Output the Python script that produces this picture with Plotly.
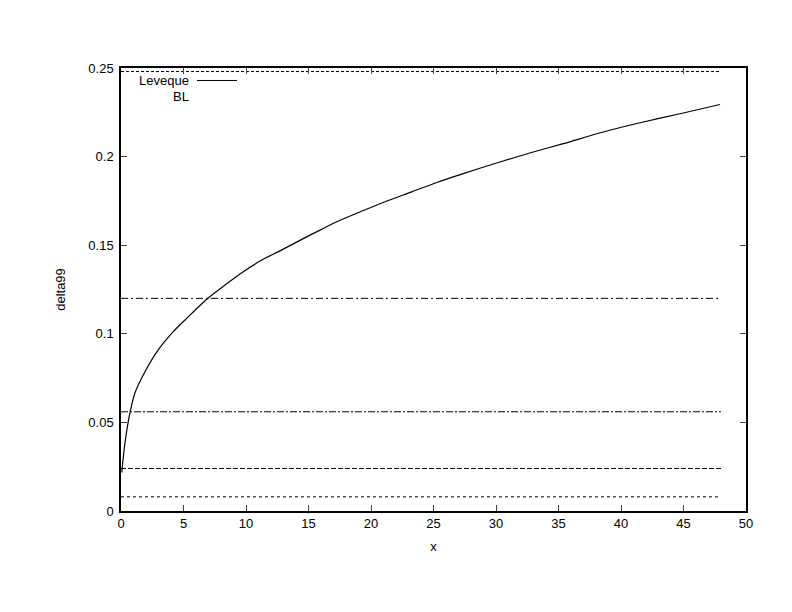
import plotly.graph_objects as go

# Leveque curve values
lev_x = [0.06, 0.32, 0.72, 1.12, 1.92, 2.98, 4.18, 5.12, 6.86, 8.32, 9.78, 11.26,
         12.72, 14.46, 15.92, 17.26, 19.34, 20.98, 23.26, 25.26, 27.38, 30.06,
         32.98, 35.38, 38.58, 41.52, 44.72, 47.92]
lev_y = [0.0217, 0.0386, 0.0555, 0.0667, 0.0786, 0.0909, 0.1012, 0.1078, 0.1195,
         0.1275, 0.1350, 0.1416, 0.1468, 0.1533, 0.1585, 0.1632, 0.1694, 0.1741,
         0.1801, 0.1854, 0.1904, 0.1964, 0.2026, 0.2073, 0.2139, 0.2191, 0.2242,
         0.2294]

# Horizontal reference levels (BL)
bl_levels = [0.248, 0.12, 0.056, 0.024, 0.008]
bl_dash = ["3px,2px", "7px,3px,2px,3px", "7px,2px,2px,2px", "5px,2px", "3px,3px"]
bl_x = [0, 48]

x_ticks = [0, 5, 10, 15, 20, 25, 30, 35, 40, 45, 50]
y_ticks = [0, 0.05, 0.1, 0.15, 0.2, 0.25]
y_tick_text = ["0", "0.05", "0.1", "0.15", "0.2", "0.25"]

fig = go.Figure()

for lvl, d in zip(bl_levels, bl_dash):
    fig.add_trace(go.Scatter(x=bl_x, y=[lvl, lvl], mode="lines",
                             line=dict(color="black", width=1, dash=d),
                             showlegend=False, hoverinfo="skip"))

fig.add_trace(go.Scatter(x=lev_x, y=lev_y, mode="lines",
                         line=dict(color="black", width=1.2, shape="spline", smoothing=0.8),
                         name="Leveque", showlegend=False))

font = dict(family="Liberation Sans, Arial, sans-serif", size=13, color="black")

# page body has an 8px margin, so the figure is sized/offset to compensate
W, H = 784, 604
L, T = 113, 59.5
PW, PH = 625, 444

fig.update_layout(
    width=W, height=H,
    margin=dict(l=L, r=W - L - PW, t=T, b=H - T - PH),
    paper_bgcolor="white", plot_bgcolor="white",
    font=font,
    showlegend=False,
    xaxis=dict(range=[0, 50], tickvals=x_ticks, ticks="inside", ticklen=6,
               showline=True, linecolor="black", linewidth=1.5, mirror="ticks",
               showgrid=False, zeroline=False, tickfont=font,
               title=dict(text="x", font=font, standoff=12)),
    yaxis=dict(range=[0, 0.25], tickvals=y_ticks, ticktext=y_tick_text,
               ticks="inside", ticklen=6, ticklabelstandoff=3,
               showline=True, linecolor="black", linewidth=1.5, mirror="ticks",
               showgrid=False, zeroline=False, tickfont=font,
               title=dict(text="delta99", font=font, standoff=20)),
)

# gnuplot-style key: right-justified labels followed by sample
fig.add_annotation(xref="paper", yref="paper", x=(191 - 121) / PW, y=(511.5 - 80) / PH,
                   text="Leveque", showarrow=False, xanchor="right", yanchor="middle", font=font)
fig.add_annotation(xref="paper", yref="paper", x=(191 - 121) / PW, y=(511.5 - 96) / PH,
                   text="BL", showarrow=False, xanchor="right", yanchor="middle", font=font)
fig.add_shape(type="line", xref="paper", yref="paper",
              x0=(197 - 121) / PW, x1=(237 - 121) / PW,
              y0=(511.5 - 80) / PH, y1=(511.5 - 80) / PH,
              line=dict(color="black", width=1))

fig.write_html("out.html")
